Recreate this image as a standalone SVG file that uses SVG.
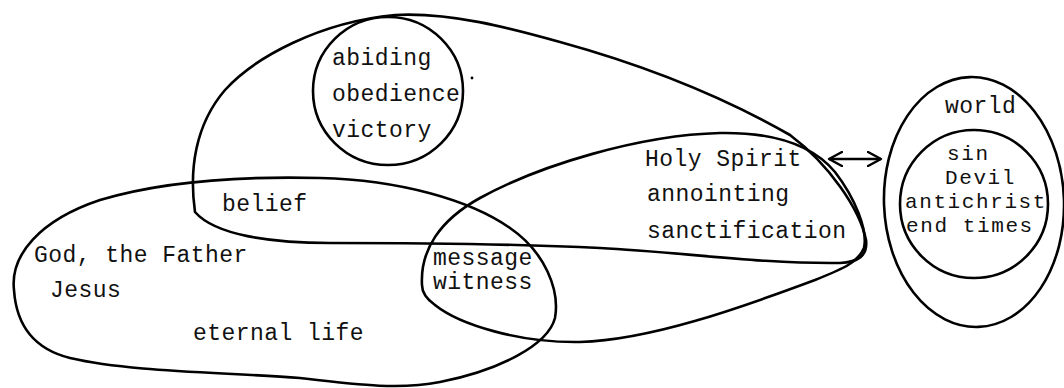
<svg xmlns="http://www.w3.org/2000/svg" width="1064" height="388" viewBox="0 0 1064 388">
  <defs>
    <style>
      .outline { fill: none; stroke: #000; stroke-width: 2.6; stroke-linejoin: round; stroke-linecap: round; }
      .label { font-family: "Liberation Mono", "Courier New", monospace; font-size: 23px; letter-spacing: 0.45px; fill: #111; }
      .tight { font-size: 21px; letter-spacing: 1.6px; }
      .link { fill: none; stroke: #000; stroke-width: 2.4; }
    </style>
    <marker id="chevron-end" viewBox="0 0 16 16" refX="14" refY="8" markerWidth="16" markerHeight="16" markerUnits="userSpaceOnUse" orient="auto">
      <polyline points="1,1 14,8 1,15" fill="none" stroke="#000" stroke-width="2.4" stroke-linejoin="round" stroke-linecap="round"/>
    </marker>
    <marker id="chevron-start" viewBox="0 0 16 16" refX="2" refY="8" markerWidth="16" markerHeight="16" markerUnits="userSpaceOnUse" orient="auto">
      <polyline points="15,1 2,8 15,15" fill="none" stroke="#000" stroke-width="2.4" stroke-linejoin="round" stroke-linecap="round"/>
    </marker>
  </defs>

  <rect width="1064" height="388" fill="#fff"/>

  <!-- upper region: abiding circle and belief -->
  <g id="blob-top">
    <path class="outline" d="M 195,212 C 189,170 195,125 225,90 C 255,57 320,22 395,15 C 450,12 510,28 560,42 C 640,64 720,95 790,135 C 830,165 860,210 866,240 C 868,256 858,262 840,263 C 760,264 680,252 600,248 C 520,244 420,243 330,243 C 270,243 215,235 195,212 Z"/>
    <text class="label" x="222" y="211">belief</text>
  </g>

  <g id="circle-abiding">
    <ellipse class="outline" cx="388" cy="91" rx="75" ry="74"/>
    <text class="label" x="332" y="65">abiding</text>
    <text class="label" x="332" y="101">obedience</text>
    <text class="label" x="332" y="137">victory</text>
    <circle cx="472" cy="78" r="1.4" fill="#000"/>
  </g>

  <!-- Holy Spirit region -->
  <g id="blob-spirit">
    <path class="outline" d="M 422,285 C 420,250 440,220 480,198 C 540,165 640,135 720,133 C 780,132 815,148 835,172 C 855,198 868,230 864,248 C 858,262 845,268 815,280 C 740,308 650,340 580,342 C 520,343 460,325 435,305 C 425,298 422,292 422,285 Z"/>
    <text class="label" x="645" y="166">Holy Spirit</text>
    <text class="label" x="647" y="201">annointing</text>
    <text class="label" x="647" y="238">sanctification</text>
  </g>

  <!-- lower-left region -->
  <g id="blob-father">
    <path class="outline" d="M 14,290 C 10,255 40,220 100,200 C 160,182 240,176 320,178 C 400,180 470,200 510,228 C 545,252 560,290 555,318 C 548,345 500,370 440,382 C 400,390 360,385 300,378 C 220,372 130,372 70,358 C 30,348 16,320 14,290 Z"/>
    <text class="label" x="34" y="262">God, the Father</text>
    <text class="label" x="50" y="297">Jesus</text>
    <text class="label" x="193" y="340">eternal life</text>
  </g>

  <g id="overlap-message">
    <text class="label" x="433" y="265">message</text>
    <text class="label" x="433" y="289">witness</text>
  </g>

  <!-- world and what it holds -->
  <g id="world">
    <ellipse class="outline" cx="974" cy="202" rx="90" ry="125" transform="rotate(-2 974 202)"/>
    <text class="label" x="945" y="113">world</text>
  </g>

  <g id="world-inner">
    <ellipse class="outline" cx="974" cy="204" rx="74" ry="74"/>
    <text class="label tight" x="947" y="160">sin</text>
    <text class="label tight" x="945" y="184">Devil</text>
    <text class="label tight" x="905" y="208">antichrist</text>
    <text class="label tight" x="906" y="232">end times</text>
  </g>

  <g id="connectors">
    <line class="link" x1="829" y1="159" x2="881" y2="159" marker-start="url(#chevron-start)" marker-end="url(#chevron-end)"/>
  </g>
</svg>
